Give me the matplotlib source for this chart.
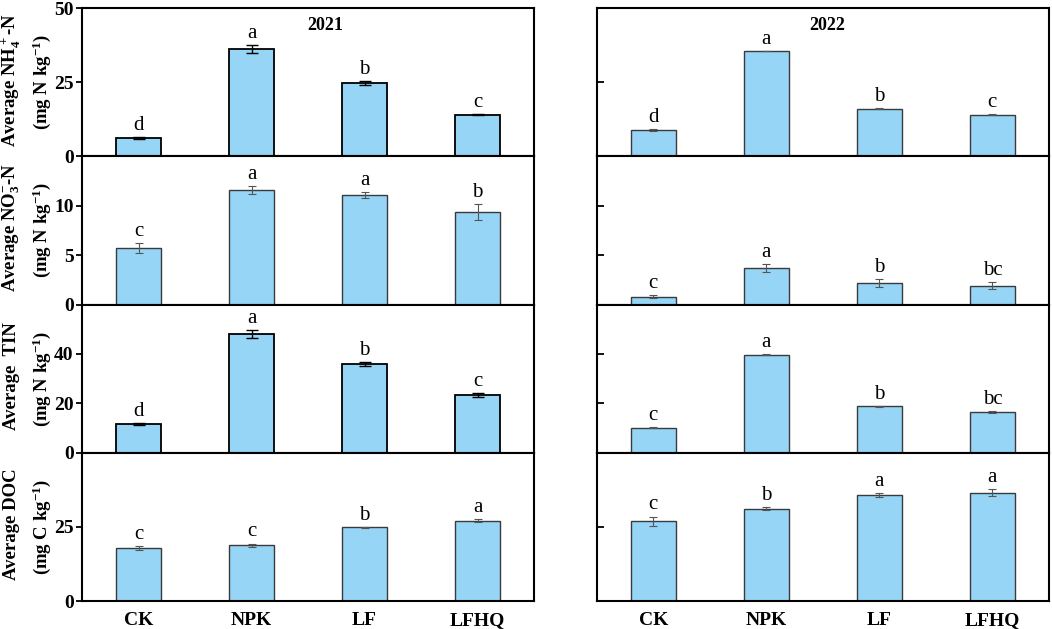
import numpy as np
import matplotlib
matplotlib.use("Agg")
import matplotlib.pyplot as plt

plt.rcParams["font.family"] = ["Liberation Serif", "DejaVu Serif"]
plt.rcParams["mathtext.default"] = "regular"

categories = ["CK", "NPK", "LF", "LFHQ"]
years = ["2021", "2022"]

# means and errors, [2021, 2022]
nh4 = [[6.1, 36.3, 24.8, 14.1], [9.0, 35.5, 16.1, 14.1]]
nh4_err = [[0.3, 1.4, 0.6, 0.3], [0.3, 0.1, 0.2, 0.2]]
nh4_sig = [["d", "a", "b", "c"], ["d", "a", "b", "c"]]

no3 = [[5.75, 11.6, 11.05, 9.4], [0.78, 3.7, 2.2, 1.9]]
no3_err = [[0.5, 0.4, 0.3, 0.8], [0.15, 0.4, 0.4, 0.35]]
no3_sig = [["c", "a", "a", "b"], ["c", "a", "b", "bc"]]

tin = [[11.8, 48.1, 35.9, 23.4], [10.2, 39.7, 18.8, 16.5]]
tin_err = [[0.4, 1.7, 0.9, 0.8], [0.3, 0.3, 0.3, 0.4]]
tin_sig = [["d", "a", "b", "c"], ["c", "a", "b", "bc"]]

doc = [[17.8, 18.8, 24.9, 27.1], [26.9, 31.2, 35.7, 36.6]]
doc_err = [[0.6, 0.6, 0.2, 0.4], [1.6, 0.4, 0.6, 1.1]]
doc_sig = [["c", "c", "b", "a"], ["c", "b", "a", "a"]]

rows = [
    (nh4, nh4_err, nh4_sig, 50, [0, 25, 50], r"Average NH$_4^+$-N", r"(mg N kg$^{-1}$)"),
    (no3, no3_err, no3_sig, 15, [0, 5, 10], r"Average NO$_3^{-}$-N", r"(mg N kg$^{-1}$)"),
    (tin, tin_err, tin_sig, 60, [0, 20, 40], r"Average  TIN", r"(mg N kg$^{-1}$)"),
    (doc, doc_err, doc_sig, 50, [0, 25], r"Average DOC", r"(mg C kg$^{-1}$)"),
]

bar_color = "#97D5F6"
x = np.arange(1, 5)

fig, axes = plt.subplots(4, 2, figsize=(10.52, 6.29), dpi=100)
fig.subplots_adjust(left=0.078, right=0.997, top=0.987, bottom=0.0445,
                    hspace=0, wspace=0.139)

for r, (vals, errs, sigs, ymax, yt, lab1, lab2) in enumerate(rows):
    for c in range(2):
        ax = axes[r, c]
        dark = (c == 0 and r in (0, 2))
        ec = "black" if dark else "#3a3a3a"
        errc = "black" if dark else "#555555"
        ax.bar(x, vals[c], width=0.4, color=bar_color, edgecolor=ec,
               linewidth=1.3 if dark else 1.0, zorder=2)
        ax.errorbar(x, vals[c], yerr=errs[c], fmt="none", ecolor=errc,
                    elinewidth=1.0 if dark else 0.8, capsize=4 if dark else 3,
                    capthick=1.0 if dark else 0.8, zorder=3)
        for xi, v, e, s in zip(x, vals[c], errs[c], sigs[c]):
            ax.annotate(s, (xi, v + e), xytext=(0, 1.5), textcoords="offset points",
                        ha="center", va="bottom", fontsize=15)
        ax.set_xlim(0.5, 4.5)
        ax.set_ylim(0, ymax)
        ax.set_yticks(yt)
        for sp in ax.spines.values():
            sp.set_linewidth(1.5)
        if c == 0:
            ax.tick_params(axis="y", direction="out", length=4, width=1.3,
                           labelsize=14, pad=2)
            for t in ax.get_yticklabels():
                t.set_fontweight("bold")
        else:
            ax.tick_params(axis="y", direction="in", length=5, width=1.3,
                           labelleft=False)
        ax.tick_params(axis="x", length=0)
        if r == 3:
            ax.set_xticks(x)
            ax.set_xticklabels(categories, fontsize=14, fontweight="bold")
            ax.tick_params(axis="x", pad=8)
        else:
            ax.set_xticks([])
        if r == 0:
            ax.text(0.538 if c == 0 else 0.51, 0.88, years[c], transform=ax.transAxes,
                    ha="center", va="center", fontsize=13, fontweight="bold")

    # y labels
    bb = axes[r, 0].get_position()
    yc = (bb.y0 + bb.y1) / 2
    fig.text(0.0105, yc + 0.004, lab1, rotation=90, ha="center", va="center",
             fontsize=13.5, fontweight="bold")
    fig.text(0.040, yc, lab2, rotation=90, ha="center", va="center",
             fontsize=13.5, fontweight="bold")

fig.savefig("out.png", dpi=100)
